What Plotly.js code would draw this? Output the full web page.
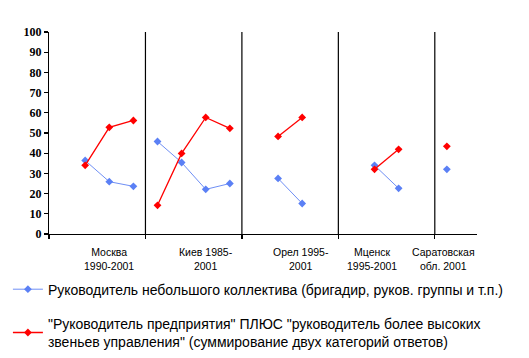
<!DOCTYPE html>
<html>
<head>
<meta charset="utf-8">
<script src="https://cdn.plot.ly/plotly-3.0.1.min.js"></script>
<style>html,body{margin:0;padding:0;background:#fff;}#chart{width:529px;height:358px;}</style>
</head>
<body>
<div id="chart"></div>
<script>
// category slots (index positions along the x axis); null separates the city groups
const slots = [1,2,3,null, 4,5,6,7,null, 9,10,null, 13,14,null, 16];
// Series values per slot (null = break between groups)
const smallLeader = [36.4,25.9,23.6,null, 45.8,35.4,22.1,25.0,null, 27.5,15.1,null, 34.0,22.6,null, 32.0];
const topLeader   = [34.0,52.8,56.2,null, 14.2,39.9,57.7,52.3,null, 48.3,57.7,null, 32.0,41.9,null, 43.4];
const seriesNames = [
  "Руководитель небольшого коллектива (бригадир, руков. группы и т.п.)",
  "\"Руководитель предприятия\" ПЛЮС \"руководитель более высоких<br>звеньев управления\" (суммирование двух категорий ответов)"
];
// group labels and their slot positions
const groupLabels = ["Москва<br>1990-2001","Киев 1985-<br>2001","Орел 1995-<br>2001","Мценск<br>1995-2001","Саратовская<br>обл. 2001"];
const groupLabelPos = [2, 6, 9.95, 12.9, 15.85];
// group boundaries
const boundaries = [-0.5, 3.5, 7.5, 11.5, 15.5];
const yTicks = [0,10,20,30,40,50,60,70,80,90,100];

const traces = [
  {x: slots, y: smallLeader, name: seriesNames[0], type: 'scatter', mode: 'lines+markers',
   connectgaps: false, legendgroup: 'a',
   line: {color: '#6f8ff5', width: 1}, marker: {symbol: 'diamond', size: 6, color: '#5b80f5'}},
  {x: slots, y: topLeader, name: seriesNames[1], type: 'scatter', mode: 'lines+markers',
   connectgaps: false, legendgroup: 'b',
   line: {color: '#ff0000', width: 1.3}, marker: {symbol: 'diamond', size: 6, color: '#ff0000'}}
];

const shapes = boundaries.slice(1).map(b => ({
  type: 'line', xref: 'x', yref: 'y', x0: b, x1: b, y0: 0, y1: 100,
  line: {color: '#000', width: 1.2}
}));

const annotations = groupLabels.map((t, i) => ({
  x: groupLabelPos[i], xref: 'x', y: -0.048, yref: 'paper', yanchor: 'top',
  text: t, showarrow: false, font: {family: 'Liberation Sans, Arial', size: 10.5, color: '#000'}
}));

const layout = {
  width: 529, height: 358,
  margin: {l: 49, r: 52, t: 32, b: 124, autoexpand: false},
  paper_bgcolor: '#fff', plot_bgcolor: '#fff',
  showlegend: true,
  legend: {x: -0.096, y: -0.196, xanchor: 'left', yanchor: 'top', orientation: 'v',
    tracegroupgap: 13,
    font: {family: 'Liberation Sans, Arial', size: 14, color: '#000'}, bgcolor: 'rgba(0,0,0,0)'},
  xaxis: {range: [-0.5, 17.25], showgrid: false, zeroline: false, showline: true,
    linecolor: '#000', linewidth: 1.2, tickmode: 'array', tickvals: boundaries,
    ticktext: boundaries.map(() => ''), ticks: 'outside', ticklen: 4, tickcolor: '#000', tickwidth: 1.2},
  yaxis: {range: [0, 100], showgrid: false, zeroline: false, showline: true,
    linecolor: '#000', linewidth: 1.2, tickmode: 'array', tickvals: yTicks,
    ticks: 'outside', ticklen: 4, tickcolor: '#000', tickwidth: 1.2,
    tickfont: {family: 'Liberation Serif, Times New Roman', size: 12, color: '#000', weight: 'bold'}},
  shapes: shapes,
  annotations: annotations
};

Plotly.newPlot('chart', traces, layout, {displayModeBar: false, staticPlot: true});
</script>
</body>
</html>
